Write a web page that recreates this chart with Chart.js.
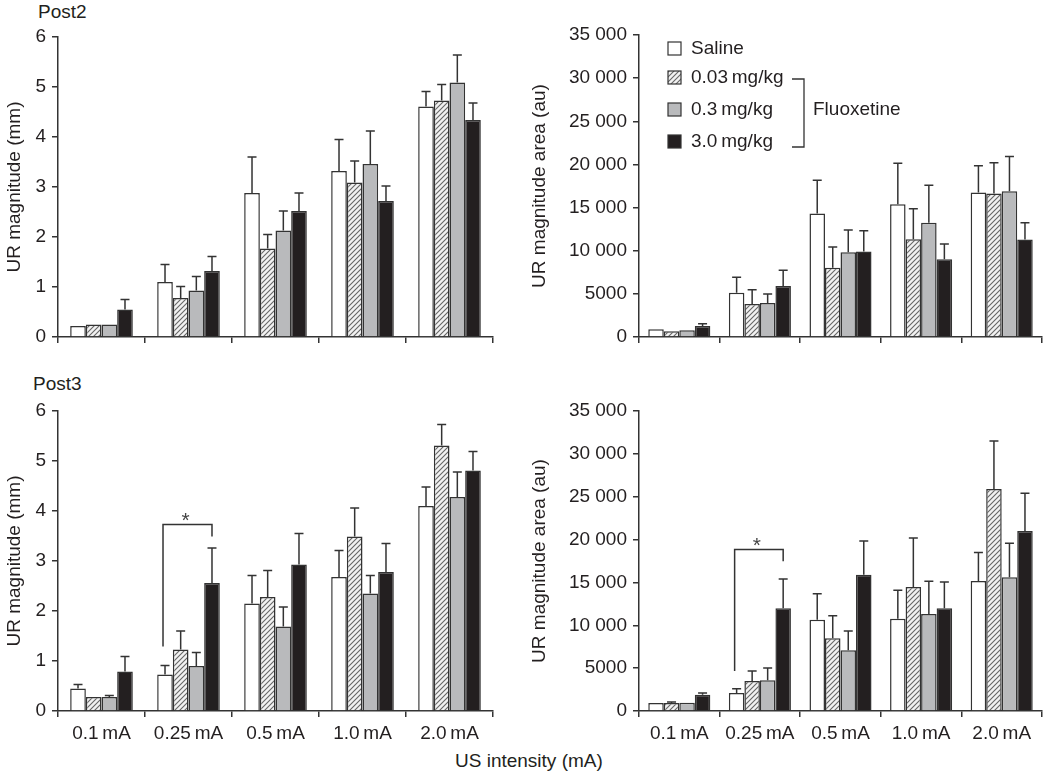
<!DOCTYPE html>
<html>
<head>
    <title>UR magnitude - Fluoxetine</title>
    <script src="https://cdn.jsdelivr.net/npm/chart.js@4"></script>
    <style>
        body { margin: 0; background: #fff; }
        #wrap { position: relative; width: 1050px; height: 773px; font-family: "Liberation Sans", Arial, sans-serif; color: #231f20; }
        canvas { position: absolute; }
        .lbl { position: absolute; font-size: 19px; line-height: 19px; white-space: nowrap; }
    </style>
</head>
<body>
<div id="wrap">
    <div class="lbl" style="left:38px; top:2px;">Post2</div>
    <div class="lbl" style="left:33px; top:374px;">Post3</div>
    <div class="lbl" style="left:455px; top:751px;">US intensity (mA)</div>
    <canvas id="c1" width="520" height="370" style="left:0; top:0;"></canvas>
    <canvas id="c2" width="525" height="370" style="left:525px; top:0;"></canvas>
    <canvas id="c3" width="520" height="403" style="left:0; top:370px;"></canvas>
    <canvas id="c4" width="525" height="403" style="left:525px; top:370px;"></canvas>
</div>
<script>
    var categories = ['0.1\u2009mA', '0.25\u2009mA', '0.5\u2009mA', '1.0\u2009mA', '2.0\u2009mA'];
    var seriesNames = ['Saline', '0.03\u2009mg/kg', '0.3\u2009mg/kg', '3.0\u2009mg/kg'];

    // means, one row per group (Saline, 0.03, 0.3, 3.0 mg/kg)
    var post2Mm = [
        [0.22, 1.10, 2.88, 3.32, 4.61],
        [0.25, 0.78, 1.77, 3.09, 4.73],
        [0.25, 0.93, 2.13, 3.46, 5.09],
        [0.55, 1.32, 2.52, 2.72, 4.34]
    ];
    var post2MmErr = [
        [0, 0.35, 0.72, 0.63, 0.30],
        [0, 0.23, 0.28, 0.43, 0.32],
        [0, 0.28, 0.39, 0.66, 0.55],
        [0.20, 0.29, 0.36, 0.30, 0.34]
    ];
    var post2Au = [
        [900, 5140, 14310, 15390, 16740],
        [660, 3830, 8040, 11330, 16630],
        [770, 3940, 9820, 13230, 16900],
        [1280, 5920, 9900, 9010, 11290]
    ];
    var post2AuErr = [
        [0, 1780, 3860, 4760, 3100],
        [0, 1660, 2400, 3520, 3560],
        [0, 1050, 2590, 4360, 4020],
        [270, 1810, 2400, 1780, 1940]
    ];
    var post3Mm = [
        [0.45, 0.73, 2.15, 2.68, 4.10],
        [0.28, 1.23, 2.28, 3.49, 5.31],
        [0.28, 0.90, 1.69, 2.35, 4.28],
        [0.79, 2.56, 2.93, 2.78, 4.81]
    ];
    var post3MmErr = [
        [0.08, 0.18, 0.56, 0.53, 0.38],
        [0, 0.37, 0.53, 0.57, 0.42],
        [0.03, 0.27, 0.39, 0.36, 0.50],
        [0.30, 0.70, 0.62, 0.57, 0.38]
    ];
    var post3Au = [
        [930, 2100, 10660, 10770, 15170],
        [930, 3500, 8480, 14470, 25900],
        [970, 3580, 7080, 11320, 15600],
        [1900, 11980, 15910, 11980, 21000]
    ];
    var post3AuErr = [
        [0, 510, 3030, 3310, 3310],
        [120, 1170, 2640, 5720, 5600],
        [0, 1440, 2250, 3810, 3960],
        [200, 3420, 3930, 3070, 4400]
    ];
    // significance bracket: left foot, top, right foot (in axis units)
    var post3MmBracket = [1.29, 3.73, 3.49];
    var post3AuBracket = [4670, 18830, 17460];

    var ink = '#231f20';
    var axisColor = '#333';
    var fontFamily = '"Liberation Sans", Arial, sans-serif';

    function hatch() {
        var p = document.createElement('canvas');
        p.width = 5; p.height = 5;
        var c = p.getContext('2d');
        c.fillStyle = '#f2f2f2';
        c.fillRect(0, 0, 5, 5);
        c.strokeStyle = '#666';
        c.lineWidth = 1.1;
        c.beginPath();
        c.moveTo(-1, 6); c.lineTo(6, -1);
        c.moveTo(-1, 1); c.lineTo(1, -1);
        c.moveTo(4, 6); c.lineTo(6, 4);
        c.stroke();
        return p.getContext('2d').createPattern(p, 'repeat');
    }
    var hatchPattern = hatch();
    var fills = ['#ffffff', hatchPattern, '#b9babc', ink];

    var errorBars = {
        id: 'errorBars',
        afterDatasetsDraw: function(chart) {
            var ctx = chart.ctx, y = chart.scales.y;
            ctx.save();
            ctx.strokeStyle = axisColor;
            ctx.lineWidth = 1.5;
            chart.data.datasets.forEach(function(ds, i) {
                chart.getDatasetMeta(i).data.forEach(function(bar, j) {
                    var e = ds.sem[j];
                    if (!e) return;
                    var top = y.getPixelForValue(ds.data[j] + e);
                    ctx.beginPath();
                    ctx.moveTo(bar.x, bar.y);
                    ctx.lineTo(bar.x, top);
                    ctx.moveTo(bar.x - 4.5, top);
                    ctx.lineTo(bar.x + 4.5, top);
                    ctx.stroke();
                });
            });
            ctx.restore();
        }
    };

    var sigBracket = {
        id: 'sigBracket',
        afterDatasetsDraw: function(chart, args, opts) {
            if (!opts.values) return;
            var ctx = chart.ctx, y = chart.scales.y;
            var x1 = chart.getDatasetMeta(0).data[1].x - 2;
            var x2 = chart.getDatasetMeta(3).data[1].x;
            var yl = y.getPixelForValue(opts.values[0]);
            var yt = y.getPixelForValue(opts.values[1]);
            var yr = y.getPixelForValue(opts.values[2]);
            ctx.save();
            ctx.strokeStyle = axisColor;
            ctx.lineWidth = 1.5;
            ctx.beginPath();
            ctx.moveTo(x1, yl); ctx.lineTo(x1, yt); ctx.lineTo(x2, yt); ctx.lineTo(x2, yr);
            ctx.stroke();
            ctx.fillStyle = '#444';
            ctx.font = '21px ' + fontFamily;
            ctx.textAlign = 'center';
            ctx.textBaseline = 'alphabetic';
            ctx.fillText('*', (x1 + x2) / 2 - 2, yt + 2);
            ctx.restore();
        }
    };

    var legendBox = {
        id: 'legendBox',
        afterDraw: function(chart, args, opts) {
            if (!opts.show) return;
            var ctx = chart.ctx, a = chart.chartArea;
            var bx = a.left + 29, rows = [14, 43, 75, 107];
            ctx.save();
            ctx.font = '19px ' + fontFamily;
            ctx.textBaseline = 'middle';
            ctx.fillStyle = ink;
            seriesNames.forEach(function(name, i) {
                var cy = a.top + rows[i];
                ctx.fillStyle = fills[i];
                ctx.fillRect(bx, cy - 7, 13, 13);
                ctx.strokeStyle = axisColor;
                ctx.lineWidth = 1.2;
                ctx.strokeRect(bx, cy - 7, 13, 13);
                ctx.fillStyle = ink;
                ctx.fillText(name, bx + 23, cy);
            });
            var top = a.top + rows[1] + 1, bot = a.top + rows[3] + 5, rx = bx + 136;
            ctx.strokeStyle = axisColor;
            ctx.lineWidth = 1.3;
            ctx.beginPath();
            ctx.moveTo(rx - 12, top); ctx.lineTo(rx, top); ctx.lineTo(rx, bot); ctx.lineTo(rx - 12, bot);
            ctx.stroke();
            ctx.fillText('Fluoxetine', rx + 9, a.top + rows[2]);
            ctx.restore();
        }
    };

    function fmt(v) {
        return v >= 10000 ? String(v).replace(/(\d+)(\d{3})$/, '$1 $2') : String(v);
    }

    function makePanel(id, means, errs, cfg) {
        var datasets = means.map(function(vals, i) {
            return {
                label: seriesNames[i],
                data: vals,
                sem: errs[i],
                backgroundColor: fills[i],
                borderColor: axisColor,
                borderWidth: 1.5,
                barPercentage: 1.0,
                categoryPercentage: cfg.catPct
            };
        });
        return new Chart(document.getElementById(id), {
            type: 'bar',
            data: { labels: categories, datasets: datasets },
            options: {
                responsive: false,
                animation: false,
                devicePixelRatio: 1,
                layout: { padding: { left: 0, top: cfg.top, right: cfg.right, bottom: 0 } },
                plugins: {
                    legend: { display: false },
                    tooltip: { enabled: false },
                    sigBracket: { values: cfg.bracket },
                    legendBox: { show: !!cfg.legend }
                },
                scales: {
                    x: {
                        offset: true,
                        grid: { offset: true, drawOnChartArea: false, tickLength: 6, color: axisColor, lineWidth: 1.5 },
                        border: { display: true, color: axisColor, width: 1.5 },
                        ticks: { display: cfg.xLabels, padding: 5, color: ink, font: { family: fontFamily, size: 19 } },
                        afterFit: function(s) { s.height = cfg.xHeight; }
                    },
                    y: {
                        min: 0,
                        max: cfg.max,
                        grid: { drawOnChartArea: false, tickLength: 6, color: axisColor, lineWidth: 1.5 },
                        border: { display: true, color: axisColor, width: 1.5 },
                        ticks: { stepSize: cfg.step, padding: 6, color: ink, font: { family: fontFamily, size: 19 }, callback: fmt },
                        title: { display: true, text: cfg.title, color: ink, padding: { top: 3, bottom: 0 }, font: { family: fontFamily, size: 19 } },
                        afterFit: function(s) { s.width = cfg.yWidth; }
                    }
                }
            },
            plugins: [errorBars, sigBracket, legendBox]
        });
    }

    makePanel('c1', post2Mm, post2MmErr, { max: 6, step: 1, title: 'UR magnitude (mm)', top: 37, right: 27, yWidth: 58, xHeight: 33, xLabels: false, catPct: 0.72 });
    makePanel('c2', post2Au, post2AuErr, { max: 35000, step: 5000, title: 'UR magnitude area (au)', top: 35, right: 8, yWidth: 114, xHeight: 33, xLabels: false, catPct: 0.77, legend: true });
    makePanel('c3', post3Mm, post3MmErr, { max: 6, step: 1, title: 'UR magnitude (mm)', top: 41, right: 27, yWidth: 58, xHeight: 62, xLabels: true, catPct: 0.72, bracket: post3MmBracket });
    makePanel('c4', post3Au, post3AuErr, { max: 35000, step: 5000, title: 'UR magnitude area (au)', top: 41, right: 8, yWidth: 114, xHeight: 62, xLabels: true, catPct: 0.77, bracket: post3AuBracket });
</script>
</body>
</html>
